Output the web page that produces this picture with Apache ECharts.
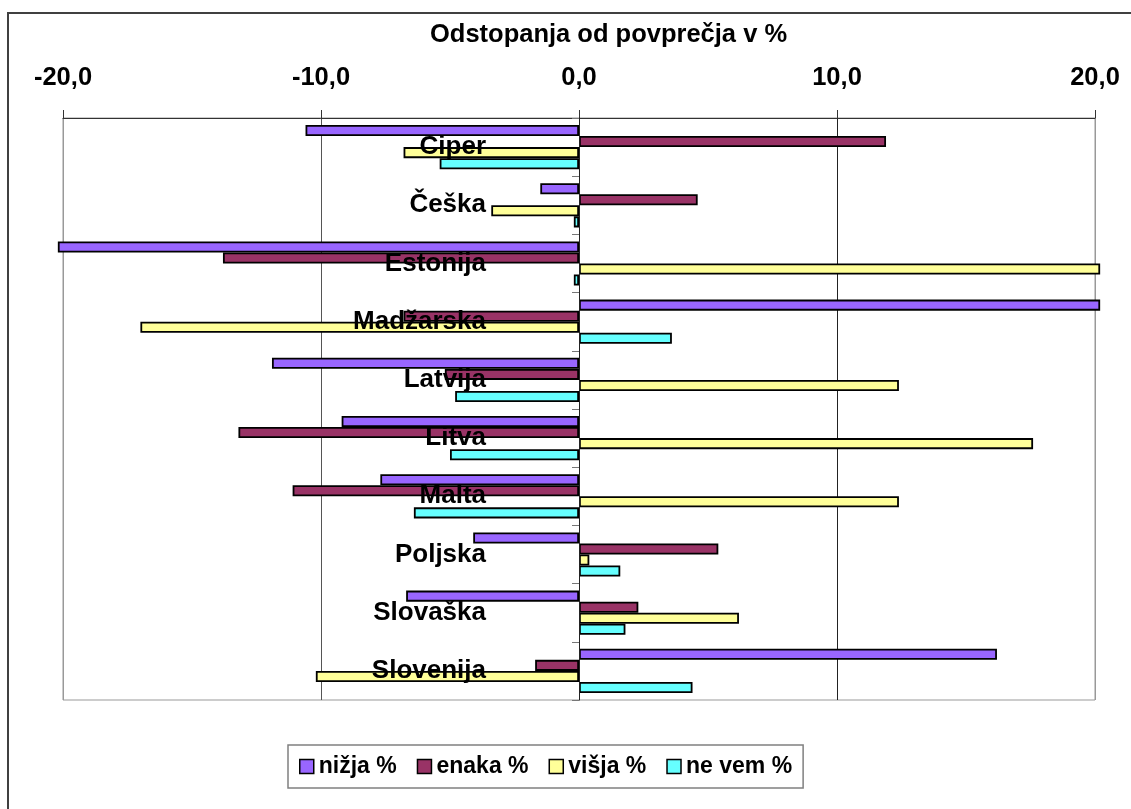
<!DOCTYPE html>
<html>
<head>
<meta charset="utf-8">
<script src="https://cdn.jsdelivr.net/npm/echarts@6/dist/echarts.min.js"></script>
<style>
  html, body { margin: 0; padding: 0; background: #fff; }
  #chart { width: 1131px; height: 809px; }
</style>
</head>
<body>
<div id="chart"></div>
<script>
// ---- data ----
const categories = ['Ciper', 'Češka', 'Estonija', 'Madžarska', 'Latvija', 'Litva', 'Malta', 'Poljska', 'Slovaška', 'Slovenija'];
const seriesNames = ['nižja %', 'enaka %', 'višja %', 'ne vem %'];
const nizja = [-10.6, -1.5, -20.2, 20.2, -11.9, -9.2, -7.7, -4.1, -6.7, 16.2];
const enaka = [11.9, 4.6, -13.8, -6.8, -5.2, -13.2, -11.1, 5.4, 2.3, -1.7];
const visja = [-6.8, -3.4, 20.2, -17.0, 12.4, 17.6, 12.4, 0.4, 6.2, -10.2];
const neVem = [-5.4, -0.2, -0.2, 3.6, -4.8, -5.0, -6.4, 1.6, 1.8, 4.4];
const xTicks = [-20, -10, 0, 10, 20];
const titleText = 'Odstopanja od povprečja v %';

const colors = ['#9966FF', '#993366', '#FFFF99', '#66FFFF'];
const values = [nizja, enaka, visja, neVem];
const FONT = '"Liberation Sans", Arial, sans-serif';

const chart = echarts.init(document.getElementById('chart'), null, { renderer: 'canvas' });

const option = {
  backgroundColor: '#ffffff',
  animation: false,
  title: {
    text: titleText,
    left: 425,
    top: 17,
    textStyle: { fontFamily: FONT, fontSize: 25.5, fontWeight: 'bold', color: '#000' }
  },
  graphic: [{
    type: 'rect',
    z: -10,
    shape: { x: 8, y: 13, width: 1140, height: 830 },
    style: { fill: 'none', stroke: '#404040', lineWidth: 2 }
  }],
  legend: {
    left: 288,
    top: 745,
    orient: 'horizontal',
    padding: [10, 11, 10, 11],
    itemGap: 20,
    itemWidth: 14,
    itemHeight: 14,
    borderColor: '#808080',
    borderWidth: 1.5,
    icon: 'rect',
    data: seriesNames,
    itemStyle: { borderWidth: 1.5 },
    textStyle: { fontFamily: FONT, fontSize: 23, fontWeight: 'bold', color: '#000' }
  },
  grid: {
    left: 63, right: 36, top: 118, bottom: 109,
    containLabel: false,
    outerBoundsMode: 'none',
    show: true, borderColor: '#999', borderWidth: 1, backgroundColor: 'transparent'
  },
  xAxis: {
    type: 'value',
    position: 'top',
    min: xTicks[0],
    max: xTicks[xTicks.length - 1],
    interval: 10,
    axisLine: { show: true, lineStyle: { color: '#333', width: 1 } },
    axisTick: { show: true, length: 8, lineStyle: { color: '#333' } },
    splitLine: { show: true, lineStyle: { color: ['#999', '#555', '#333', '#222', '#999'], width: 1 } },
    axisLabel: {
      margin: 27,
      fontFamily: FONT, fontSize: 25.5, fontWeight: 'bold', color: '#000',
      formatter: v => v.toFixed(1).replace('.', ',')
    }
  },
  yAxis: {
    type: 'category',
    data: categories,
    inverse: true,
    z: 10,
    axisLine: { show: true, onZero: true, lineStyle: { color: '#222', width: 1 } },
    axisTick: { show: true, length: 7, lineStyle: { color: '#777' } },
    splitLine: { show: false },
    axisLabel: {
      interval: 0,
      margin: -423,
      fontFamily: FONT, fontSize: 26, fontWeight: 'bold', color: '#000'
    }
  },
  series: seriesNames.map((name, i) => ({
    name: name,
    type: 'bar',
    data: values[i],
    clip: false,
    barGap: '0%',
    barCategoryGap: '24%',
    itemStyle: { color: colors[i], borderColor: '#000', borderWidth: 1.8 }
  }))
};

chart.setOption(option);
</script>
</body>
</html>
